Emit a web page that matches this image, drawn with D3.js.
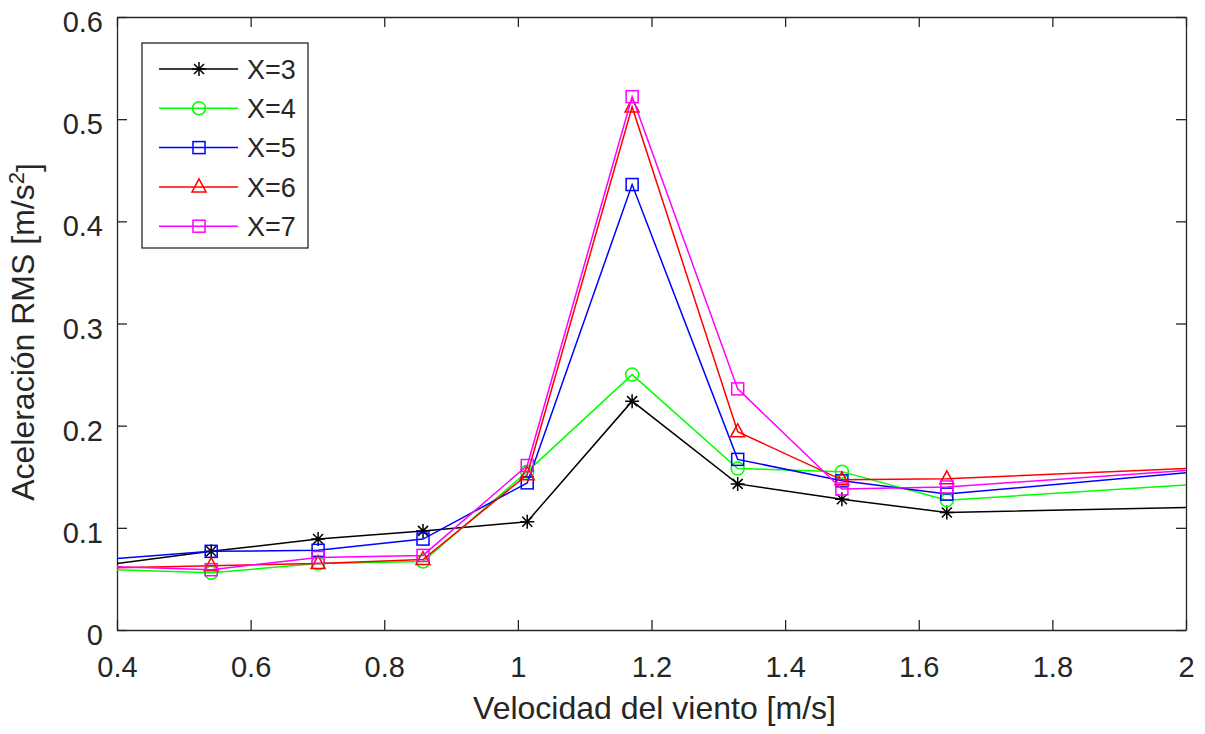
<!DOCTYPE html>
<html>
<head>
<meta charset="utf-8">
<script src="https://cdn.jsdelivr.net/npm/d3@7"></script>
<style>
  body { margin: 0; background: #fff; }
  text { font-family: "Liberation Sans", Arial, sans-serif; fill: #262626; }
</style>
</head>
<body>
<script>
var w = 1205, h = 734;
var margin = { left: 117, right: 19, top: 17, bottom: 104 };

// velocidad del viento [m/s]
var velocidad = [0.4, 0.541, 0.701, 0.858, 1.014, 1.171, 1.329, 1.485, 1.642, 2.0];
var x3 = [0.065, 0.077, 0.089, 0.097, 0.106, 0.224, 0.143, 0.128, 0.115, 0.120];
var x4 = [0.059, 0.056, 0.065, 0.067, 0.155, 0.250, 0.158, 0.155, 0.127, 0.142];
var x5 = [0.070, 0.077, 0.078, 0.089, 0.144, 0.436, 0.167, 0.146, 0.133, 0.154];
var x6 = [0.061, 0.063, 0.065, 0.069, 0.152, 0.512, 0.194, 0.147, 0.148, 0.158];
var x7 = [0.062, 0.059, 0.071, 0.073, 0.161, 0.522, 0.236, 0.138, 0.140, 0.156];
var xTicks = [0.4, 0.6, 0.8, 1, 1.2, 1.4, 1.6, 1.8, 2];
var yTicks = [0, 0.1, 0.2, 0.3, 0.4, 0.5, 0.6];

var series = [
    { name: "X=3", values: x3, color: "#000000", marker: "star" },
    { name: "X=4", values: x4, color: "#00ff00", marker: "circle" },
    { name: "X=5", values: x5, color: "#0000ff", marker: "square" },
    { name: "X=6", values: x6, color: "#ff0000", marker: "triangle" },
    { name: "X=7", values: x7, color: "#ff00ff", marker: "square" }
];

var xScale = d3.scaleLinear().domain([0.4, 2]).range([margin.left, w - margin.right]);
var yScale = d3.scaleLinear().domain([0, 0.6]).range([h - margin.bottom, margin.top]);

var svg = d3.select("body").append("svg").attr("width", w).attr("height", h);

svg.append("defs").append("clipPath").attr("id", "plotClip")
    .append("rect")
    .attr("x", margin.left).attr("y", margin.top)
    .attr("width", w - margin.left - margin.right)
    .attr("height", h - margin.top - margin.bottom);

// axes (MATLAB style box, ticks inside)
var axColor = "#262626";
var tickLen = 10;
var fs = "29px";
var xAxis = svg.append("g").attr("transform", "translate(0," + (h - margin.bottom) + ")")
    .call(d3.axisBottom(xScale).tickValues(xTicks).tickSizeInner(-tickLen).tickSizeOuter(0)
        .tickPadding(26).tickFormat(d3.format("")));
var yAxis = svg.append("g").attr("transform", "translate(" + margin.left + ",0)")
    .call(d3.axisLeft(yScale).tickValues(yTicks).tickSizeInner(-tickLen).tickSizeOuter(0)
        .tickPadding(14).tickFormat(d3.format("")));
var xTop = svg.append("g").attr("transform", "translate(0," + margin.top + ")")
    .call(d3.axisTop(xScale).tickValues(xTicks).tickSizeInner(-tickLen).tickSizeOuter(0).tickFormat(""));
var yRight = svg.append("g").attr("transform", "translate(" + (w - margin.right) + ",0)")
    .call(d3.axisRight(yScale).tickValues(yTicks).tickSizeInner(-tickLen).tickSizeOuter(0).tickFormat(""));
[xAxis, yAxis, xTop, yRight].forEach(function (g) {
    g.selectAll("path, line").attr("stroke", axColor).attr("stroke-width", 1.3);
    g.selectAll("text").style("font-size", fs).attr("fill", axColor);
});
yAxis.selectAll("text").attr("dy", "0.5em");

// lines
var plot = svg.append("g").attr("clip-path", "url(#plotClip)");
var line = d3.line()
    .x(function (d, i) { return xScale(velocidad[i]) })
    .y(function (d) { return yScale(d) });

function drawMarker(g, type, color, cx, cy) {
    if (type == "star") {
        g.append("path").attr("transform", "translate(" + cx + "," + cy + ")")
            .attr("d", "M-7,0H7M0,-7V7M-5,-5L5,5M-5,5L5,-5")
            .attr("stroke", color).attr("stroke-width", 1.5).attr("fill", "none");
    } else if (type == "circle") {
        g.append("circle").attr("cx", cx).attr("cy", cy).attr("r", 6.5)
            .attr("stroke", color).attr("stroke-width", 1.5).attr("fill", "none");
    } else if (type == "square") {
        g.append("rect").attr("x", cx - 6).attr("y", cy - 6).attr("width", 12).attr("height", 12)
            .attr("stroke", color).attr("stroke-width", 1.5).attr("fill", "none");
    } else if (type == "triangle") {
        g.append("path").attr("transform", "translate(" + cx + "," + cy + ")")
            .attr("d", "M0,-8L7,5H-7Z")
            .attr("stroke", color).attr("stroke-width", 1.5).attr("fill", "none");
    }
}

series.forEach(function (s) {
    plot.append("path")
        .datum(s.values)
        .attr("d", line)
        .attr("fill", "none")
        .attr("stroke", s.color)
        .attr("stroke-width", 1.5);
    s.values.forEach(function (v, i) {
        if (velocidad[i] > 0.4 && velocidad[i] < 2) {
            drawMarker(plot, s.marker, s.color, xScale(velocidad[i]), yScale(v));
        }
    });
});

// legend
var legend = svg.append("g");
legend.append("rect")
    .attr("x", 142).attr("y", 43).attr("width", 166).attr("height", 205)
    .attr("fill", "#fff").attr("stroke", axColor).attr("stroke-width", 1.3);
series.forEach(function (s, i) {
    var ly = 69 + i * 39.3;
    legend.append("line").attr("x1", 159).attr("x2", 238).attr("y1", ly).attr("y2", ly)
        .attr("stroke", s.color).attr("stroke-width", 1.5);
    drawMarker(legend, s.marker, s.color, 199, ly);
    legend.append("text").attr("x", 247).attr("y", ly).attr("dy", "0.36em")
        .style("font-size", "27px").attr("fill", "#000").text(s.name);
});

// axis titles
svg.append("text")
    .attr("x", (margin.left + w - margin.right) / 2 + 3).attr("y", 719)
    .attr("text-anchor", "middle").style("font-size", "32px")
    .text("Velocidad del viento [m/s]");
var yt = svg.append("text")
    .attr("transform", "translate(34,332) rotate(-90)")
    .attr("text-anchor", "middle").style("font-size", "32px");
yt.append("tspan").text("Aceleración RMS [m/s");
yt.append("tspan").attr("dy", "-0.45em").style("font-size", "22px").text("2");
yt.append("tspan").attr("dy", "0.45em").text("]");
</script>
</body>
</html>
